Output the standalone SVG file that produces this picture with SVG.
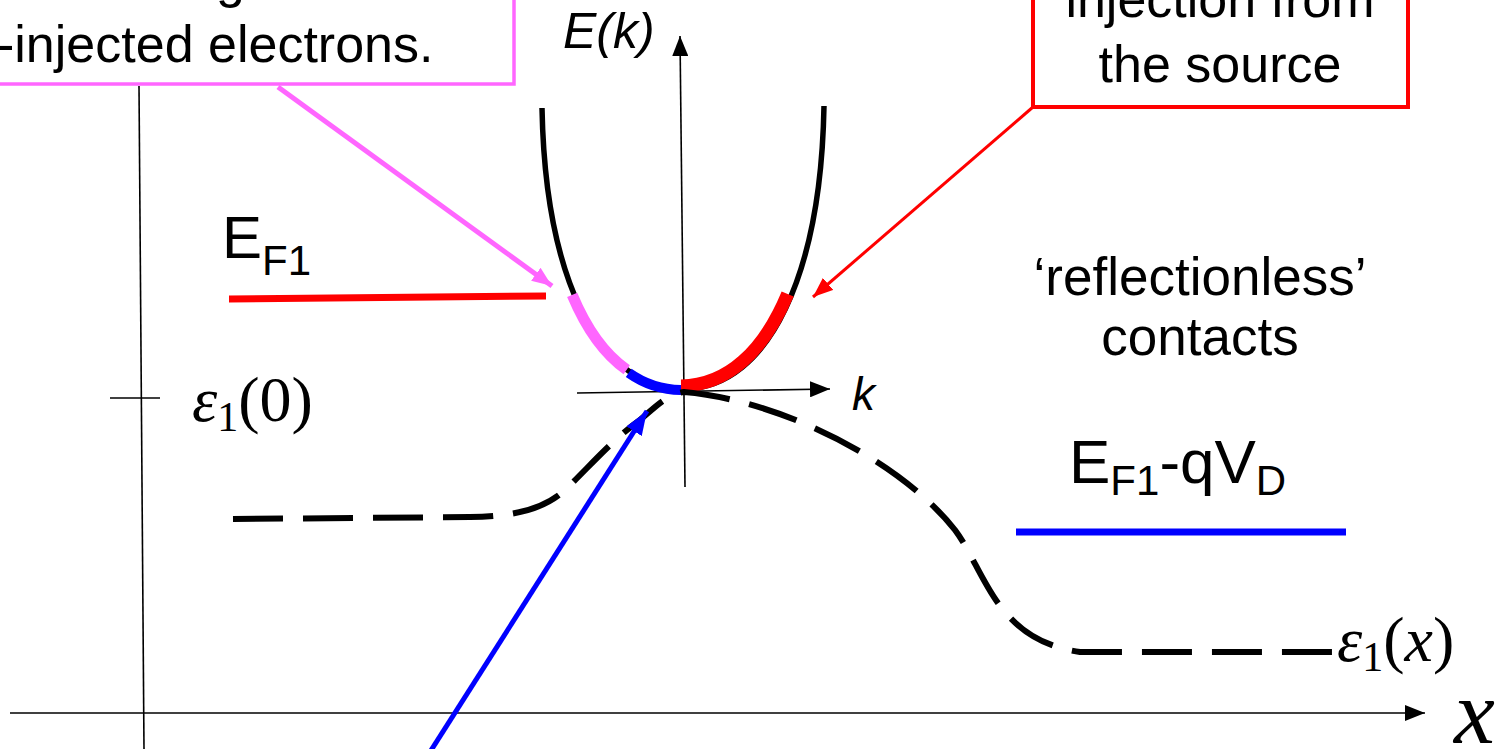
<svg xmlns="http://www.w3.org/2000/svg" width="1510" height="749" viewBox="0 0 1510 749">
<style>
.sans{font-family:"Liberation Sans",Arial,sans-serif;fill:#000}
.serif{font-family:"Liberation Serif","Times New Roman",serif;fill:#000}
.ax{stroke:#000;stroke-width:1.6;fill:none}
.band{fill:none;stroke:#000;stroke-width:5.5}
</style>
<defs>
<marker id="ahK" markerUnits="userSpaceOnUse" markerWidth="20" markerHeight="16" refX="20" refY="8" orient="auto"><path d="M0,0 L20,8 L0,16 Z" fill="#000"/></marker>
<marker id="ahP" markerUnits="userSpaceOnUse" markerWidth="20" markerHeight="16" refX="20" refY="8" orient="auto"><path d="M0,0 L20,8 L0,16 Z" fill="#FF66FF"/></marker>
<marker id="ahR" markerUnits="userSpaceOnUse" markerWidth="20" markerHeight="16" refX="20" refY="8" orient="auto"><path d="M0,0 L20,8 L0,16 Z" fill="#FF0000"/></marker>
<marker id="ahB" markerUnits="userSpaceOnUse" markerWidth="24" markerHeight="18" refX="24" refY="9" orient="auto"><path d="M0,0 L24,9 L0,18 Z" fill="#0000FF"/></marker>
</defs>

<g id="axes">
<line class="ax" x1="139" y1="86" x2="144" y2="749"/>
<line class="ax" x1="110" y1="398" x2="160" y2="398"/>
<line class="ax" x1="10" y1="713" x2="1425" y2="713" marker-end="url(#ahK)"/>
<line class="ax" x1="685" y1="487" x2="680" y2="36" marker-end="url(#ahK)"/>
<line class="ax" x1="577" y1="393" x2="830" y2="389" marker-end="url(#ahK)"/>
</g>

<g id="band-curve">
<path class="band" d="M542,108 C545,270 595,388 682,389"/>
<path class="band" d="M824,106 C821,270 771,388 684,389"/>
<path d="M542,108 C545,270 595,388 682,389" pathLength="343" fill="none" stroke="#FF66FF" stroke-width="11" stroke-dasharray="0 193 94 400" transform="translate(-3,-2)"/>
<path d="M542,108 C545,270 595,388 682,389" pathLength="343" fill="none" stroke="#0000FF" stroke-width="10" stroke-dasharray="0 287 60 100" transform="translate(-1,1)"/>
<path d="M824,106 C821,270 771,388 684,389" pathLength="343" fill="none" stroke="#FF0000" stroke-width="13" stroke-dasharray="0 194 160 100" transform="translate(-3,-3)"/>
</g>

<g id="potential">
<path d="M233,519 L470,517 C520,516 545,508 565,490 C590,466 612,440 640,420 C656,406 668,394 684,392 C780,400 900,460 955,530 C985,570 995,640 1080,652 L1335,652" fill="none" stroke="#000" stroke-width="6" stroke-dasharray="50 20"/>
</g>

<g id="fermi-levels">
<line x1="229" y1="299" x2="546" y2="296" stroke="#FF0000" stroke-width="7"/>
<line x1="1016" y1="532" x2="1346" y2="532" stroke="#0000FF" stroke-width="7"/>
</g>

<g id="connectors">
<line x1="278" y1="87" x2="552" y2="286" stroke="#FF66FF" stroke-width="5" marker-end="url(#ahP)"/>
<line x1="1033" y1="107" x2="813" y2="297" stroke="#FF0000" stroke-width="3" marker-end="url(#ahR)"/>
<line x1="430" y1="752" x2="647" y2="411" stroke="#0000FF" stroke-width="5" marker-end="url(#ahB)"/>
</g>

<g id="box-drain">
<rect x="-20" y="-60" width="534" height="144" fill="#fff" stroke="#FF66FF" stroke-width="3.5"/>
<text class="sans" x="216" y="-3" font-size="52">g</text>
<text class="sans" x="-3" y="62" font-size="52">-injected electrons.</text>
</g>

<g id="box-source">
<rect x="1033" y="-60" width="375" height="167" fill="#fff" stroke="#FF0000" stroke-width="4"/>
<text class="sans" x="1220" y="17" font-size="52" text-anchor="middle">injection from</text>
<text class="sans" x="1220" y="82" font-size="52" text-anchor="middle">the source</text>
</g>

<g id="labels">
<text class="sans" x="563" y="48" font-size="50" font-style="italic">E(k)</text>
<text class="sans" x="852" y="410" font-size="46" font-style="italic">k</text>
<text class="sans" x="222" y="258" font-size="60">E<tspan font-size="42" dy="17">F1</tspan></text>
<text class="sans" x="1069" y="483" font-size="62">E<tspan font-size="42" dy="12">F1</tspan><tspan dy="-12">-qV</tspan><tspan font-size="42" dy="12">D</tspan></text>
<text class="sans" x="1200" y="295" font-size="53" text-anchor="middle">‘reflectionless’</text>
<text class="sans" x="1200" y="355" font-size="53" text-anchor="middle">contacts</text>
<text class="serif" x="192" y="421" font-size="64"><tspan font-style="italic">ε</tspan><tspan font-size="42" dy="10">1</tspan><tspan dy="-10">(0)</tspan></text>
<text class="serif" x="1337" y="661" font-size="64"><tspan font-style="italic">ε</tspan><tspan font-size="42" dy="10">1</tspan><tspan dy="-10">(</tspan><tspan font-style="italic">x</tspan>)</text>
<text class="serif" x="1454" y="743" font-size="92" font-style="italic">x</text>
</g>
</svg>
